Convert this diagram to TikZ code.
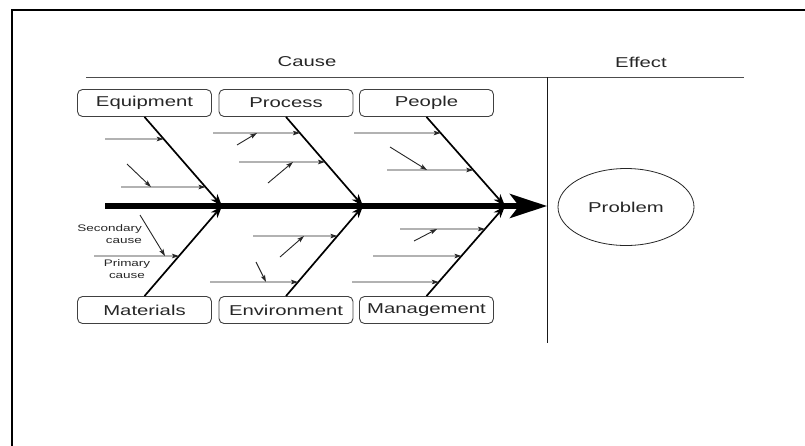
\documentclass[tikz,border=0pt]{standalone}
\usepackage{fontspec}
\setmainfont[FakeStretch=1.42]{Liberation Sans}
\usetikzlibrary{arrows.meta,shapes.geometric}
\begin{document}
\begin{tikzpicture}[x=1pt,y=-1pt,
  catbox/.style={draw=black!75,line width=0.9pt,rounded corners=5pt,minimum width=134pt,minimum height=27pt,inner sep=0pt,font=\fontsize{14.3}{16}\selectfont,text=black!85},
  bone/.style={line width=1.7pt,-{Stealth[length=12pt,width=8.5pt,inset=3.5pt]}},
  primary/.style={draw=black!85,line width=0.9pt,-{Stealth[length=7pt,width=4.5pt,inset=1.5pt]}},
  secondary/.style={draw=black!85,line width=0.9pt,-{Stealth[length=7pt,width=4.5pt,inset=1.5pt]}},
  head/.style={font=\fontsize{14.3}{16}\selectfont,text=black!85},
  small/.style={font=\fontsize{9.5}{11.5}\selectfont,text=black!85,inner sep=0pt}]
\useasboundingbox (0,0) rectangle (805,445);
% frame
\draw[line width=2pt] (12,446) -- (12,10) -- (806,10);
% headings
\node[head] (cause) at (307,62) {Cause};
\node[head] (effect) at (641,62) {Effect};
\coordinate (hl) at (86,77);
\coordinate (hr) at (744,77);
\coordinate (vt) at (547,77);
\coordinate (vb) at (547,343);
\draw[black!70,line width=0.8pt] (hl) -- (hr);
\draw[black!90,line width=0.9pt] (vt) -- (vb);
% category boxes
\node[catbox] (equip) at (144.5,103) {Equipment};
\node[catbox] (proc) at (286,103) {Process};
\node[catbox] (peop) at (426.5,103) {People};
\node[catbox] (mat) at (144.5,310) {Materials};
\node[catbox] (env) at (286,310) {Environment};
\node[catbox] (mgmt) at (426.5,310) {Management};
% problem
\node[draw=black!85,line width=0.8pt,ellipse,minimum width=136pt,minimum height=77pt,inner sep=0pt,head] (prob) at (626,207) {Problem};
% spine
\coordinate (tail) at (105,206);
\coordinate (tip) at (547,206);
\coordinate (j1) at (222,206);
\coordinate (j2) at (363,206);
\coordinate (j3) at (505,206);
\draw[line width=5.5pt,-{Stealth[length=37pt,width=24pt,inset=9pt]}] (tail) -- (tip);
% bones
\draw[bone] (equip.south) -- (j1);
\draw[bone] (proc.south) -- (j2);
\draw[bone] (peop.south) -- (j3);
\draw[bone] (mat.north) -- (j1);
\draw[bone] (env.north) -- (j2);
\draw[bone] (mgmt.north) -- (j3);
% primary causes
\newcommand\pcause[4]{%
  \coordinate (#1) at (#2,#3);
  \draw[primary] (#1) -- (intersection cs:first line={(#1)--(#2+20,#3)}, second line={#4});
}
\pcause{a1}{105}{139}{(equip.south)--(j1)}
\pcause{a2}{121}{187}{(equip.south)--(j1)}
\pcause{b1}{213}{133}{(proc.south)--(j2)}
\pcause{b2}{239}{162}{(proc.south)--(j2)}
\pcause{c1}{354}{133}{(peop.south)--(j3)}
\pcause{c2}{387}{170}{(peop.south)--(j3)}
\pcause{d1}{94}{256}{(mat.north)--(j1)}
\pcause{e1}{253}{236}{(env.north)--(j2)}
\pcause{e2}{210}{282}{(env.north)--(j2)}
\pcause{f1}{400}{229}{(mgmt.north)--(j3)}
\pcause{f2}{373}{256}{(mgmt.north)--(j3)}
\pcause{f3}{352}{282}{(mgmt.north)--(j3)}
% secondary causes
\newcommand\scause[5]{%
  \coordinate (#1s) at (#2,#3);
  \coordinate (#1e) at (#4,#5);
  \draw[secondary] (#1s) -- (#1e);
}
\scause{sa}{127}{164}{151}{187}
\scause{sb1}{237}{145}{257}{133}
\scause{sb2}{268}{183}{293}{162}
\scause{sc}{390}{147}{427}{170}
\scause{sd}{140}{215}{165}{256}
\scause{se1}{280}{257}{304}{236}
\scause{se2}{256}{262}{266}{282}
\scause{sf}{414}{241}{437}{229}
% labels
\node[small,anchor=east,align=right] (seclab) at (142,234) {Secondary\\cause};
\node[small,align=center] (primlab) at (127,269) {Primary\\cause};
\end{tikzpicture}
\end{document}
